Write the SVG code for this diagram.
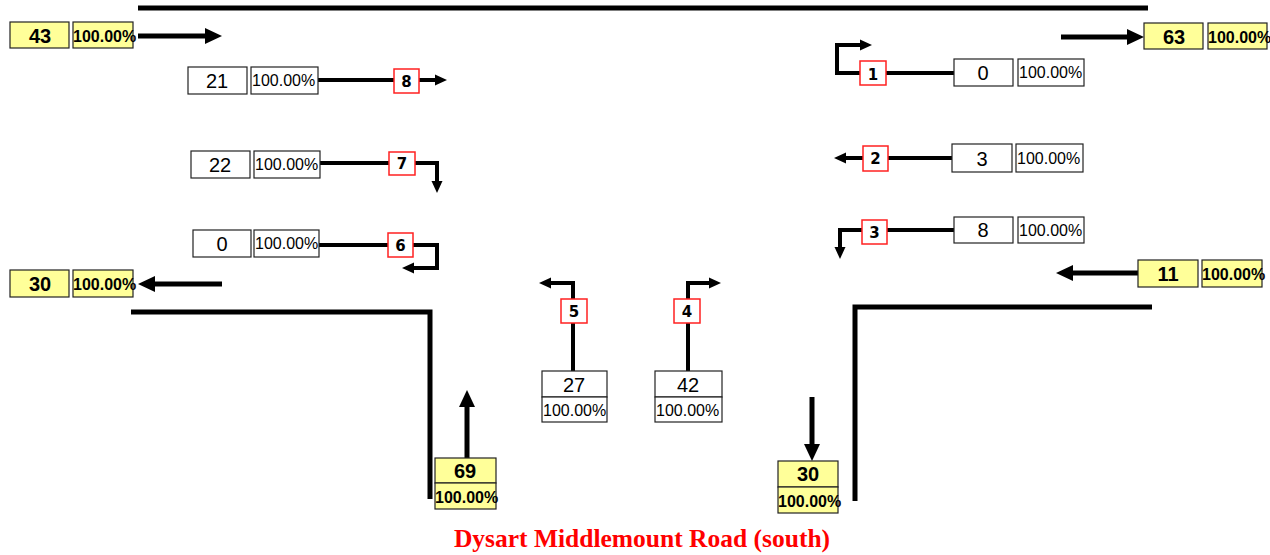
<svg xmlns="http://www.w3.org/2000/svg" width="1270" height="555" viewBox="0 0 1270 555">
<style>
.road{fill:none;stroke:#000;stroke-width:5}
.mv{fill:none;stroke:#000;stroke-width:4}
.big{fill:none;stroke:#000;stroke-width:5}
.yb{fill:#FFFF99;stroke:#222;stroke-width:1.2}
.wb{fill:#fff;stroke:#222;stroke-width:1.2}
.rb{fill:#fff;stroke:#FF2020;stroke-width:1.5}
.yn{font-family:"Liberation Sans",Arial,sans-serif;font-weight:bold;font-size:20px;text-anchor:middle}
.yp{font-family:"Liberation Sans",Arial,sans-serif;font-weight:bold;font-size:16px}
.wn{font-family:"Liberation Sans",Arial,sans-serif;font-size:20px;text-anchor:middle}
.wp{font-family:"Liberation Sans",Arial,sans-serif;font-size:16px}
.rn{font-family:"DejaVu Sans",Verdana,sans-serif;font-weight:bold;font-size:15px;text-anchor:middle}
.title{font-family:"Liberation Serif","Times New Roman",serif;font-weight:bold;font-size:25.5px;fill:#FF0000;text-anchor:middle}
</style>
<defs>
<marker id="ah" markerUnits="userSpaceOnUse" markerWidth="12" markerHeight="11" refX="0" refY="5.5" orient="auto" overflow="visible">
<path d="M0,0 L12,5.5 L0,11 z" fill="#000"/>
</marker>
<marker id="ahb" markerUnits="userSpaceOnUse" markerWidth="17" markerHeight="16" refX="0" refY="8" orient="auto" overflow="visible">
<path d="M0,0 L17,8 L0,16 z" fill="#000"/>
</marker>
</defs>
<rect width="1270" height="555" fill="#fff"/>
<g id="roads">
<path class="road" d="M138,8 H1148"/>
<path class="road" d="M131,312 H430 V499"/>
<path class="road" d="M1152,307 H855 V501"/>
</g>
<g id="connectors">
<path class="mv" d="M318,80 H435" marker-end="url(#ah)"/>
<path class="mv" d="M320,163 H437 V181" marker-end="url(#ah)"/>
<path class="mv" d="M319,245 H437 V268 H414" marker-end="url(#ah)"/>
<path class="mv" d="M954,73 H837 V45 H860" marker-end="url(#ah)"/>
<path class="mv" d="M952,158 H846" marker-end="url(#ah)"/>
<path class="mv" d="M954,230 H840 V247" marker-end="url(#ah)"/>
<path class="mv" d="M573,371 V283 H551" marker-end="url(#ah)"/>
<path class="mv" d="M688,371 V283 H709" marker-end="url(#ah)"/>
<path class="big" d="M138,36 H205" marker-end="url(#ahb)"/>
<path class="big" d="M1061,37 H1127" marker-end="url(#ahb)"/>
<path class="big" d="M222,284 H155" marker-end="url(#ahb)"/>
<path class="big" d="M1138,273 H1073" marker-end="url(#ahb)"/>
<path class="big" d="M467,458 V407" marker-end="url(#ahb)"/>
<path class="big" d="M812,397 V444" marker-end="url(#ahb)"/>
</g>
<g id="in-west-top">
<rect class="yb" x="10" y="22" width="59" height="26"/><text class="yn" x="40" y="43">43</text>
<rect class="yb" x="73" y="22" width="60" height="26"/><text class="yp" x="73" y="42">100.00%</text>
</g>
<g id="out-east-top">
<rect class="yb" x="1144" y="23" width="59" height="26"/><text class="yn" x="1174" y="44">63</text>
<rect class="yb" x="1208" y="23" width="59" height="26"/><text class="yp" x="1208" y="43">100.00%</text>
</g>
<g id="out-west">
<rect class="yb" x="10" y="270" width="59" height="27"/><text class="yn" x="40" y="291">30</text>
<rect class="yb" x="73" y="270" width="60" height="27"/><text class="yp" x="73" y="290">100.00%</text>
</g>
<g id="in-east">
<rect class="yb" x="1138" y="260" width="60" height="27"/><text class="yn" x="1168" y="281">11</text>
<rect class="yb" x="1202" y="260" width="60" height="27"/><text class="yp" x="1202" y="280">100.00%</text>
</g>
<g id="out-south">
<rect class="yb" x="435" y="458" width="61" height="25"/><text class="yn" x="465" y="478">69</text>
<rect class="yb" x="435" y="483" width="61" height="26"/><text class="yp" x="435" y="503">100.00%</text>
</g>
<g id="in-south">
<rect class="yb" x="778" y="461" width="60" height="26"/><text class="yn" x="808" y="481">30</text>
<rect class="yb" x="778" y="487" width="60" height="26"/><text class="yp" x="778" y="507">100.00%</text>
</g>
<g id="mv8">
<rect class="wb" x="188" y="67" width="59" height="27"/><text class="wn" x="217" y="88">21</text>
<rect class="wb" x="251" y="67" width="67" height="27"/><text class="wp" x="252" y="86">100.00%</text>
<rect class="rb" x="394" y="69" width="25" height="24"/><text class="rn" x="406.5" y="87">8</text>
</g>
<g id="mv7">
<rect class="wb" x="191" y="151" width="59" height="27"/><text class="wn" x="220" y="172">22</text>
<rect class="wb" x="254" y="151" width="66" height="27"/><text class="wp" x="255" y="170">100.00%</text>
<rect class="rb" x="389" y="152" width="26" height="23"/><text class="rn" x="402" y="169">7</text>
</g>
<g id="mv6">
<rect class="wb" x="193" y="230" width="58" height="27"/><text class="wn" x="222" y="251">0</text>
<rect class="wb" x="254" y="230" width="65" height="27"/><text class="wp" x="255" y="249">100.00%</text>
<rect class="rb" x="388" y="233" width="25" height="24"/><text class="rn" x="400.5" y="251">6</text>
</g>
<g id="mv1">
<rect class="wb" x="954" y="59" width="59" height="27"/><text class="wn" x="983" y="80">0</text>
<rect class="wb" x="1018" y="59" width="66" height="27"/><text class="wp" x="1019" y="78">100.00%</text>
<rect class="rb" x="860" y="61" width="26" height="24"/><text class="rn" x="873" y="80">1</text>
</g>
<g id="mv2">
<rect class="wb" x="952" y="144" width="60" height="28"/><text class="wn" x="982" y="166">3</text>
<rect class="wb" x="1016" y="144" width="67" height="28"/><text class="wp" x="1017" y="164">100.00%</text>
<rect class="rb" x="863" y="146" width="25" height="25"/><text class="rn" x="875.5" y="164">2</text>
</g>
<g id="mv3">
<rect class="wb" x="954" y="217" width="59" height="26"/><text class="wn" x="983" y="237">8</text>
<rect class="wb" x="1018" y="217" width="66" height="26"/><text class="wp" x="1019" y="236">100.00%</text>
<rect class="rb" x="862" y="220" width="25" height="24"/><text class="rn" x="874.5" y="238">3</text>
</g>
<g id="mv5">
<rect class="wb" x="542" y="371" width="65" height="26"/><text class="wn" x="574" y="392">27</text>
<rect class="wb" x="542" y="397" width="65" height="25"/><text class="wp" x="543" y="416">100.00%</text>
<rect class="rb" x="561" y="299" width="26" height="24"/><text class="rn" x="574" y="317">5</text>
</g>
<g id="mv4">
<rect class="wb" x="655" y="371" width="67" height="26"/><text class="wn" x="688" y="392">42</text>
<rect class="wb" x="655" y="397" width="67" height="25"/><text class="wp" x="656" y="416">100.00%</text>
<rect class="rb" x="674" y="299" width="26" height="24"/><text class="rn" x="687" y="317">4</text>
</g>
<g id="title">
<text class="title" x="642" y="547">Dysart Middlemount Road (south)</text>
</g>
</svg>
